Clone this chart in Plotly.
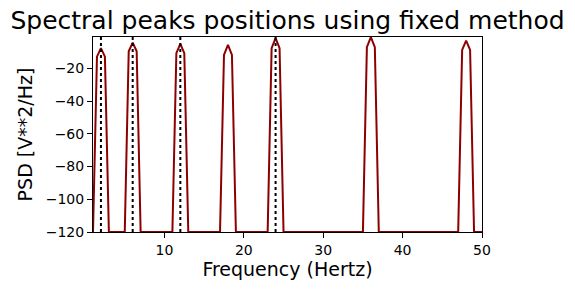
import plotly.graph_objects as go

# Spectrum vertices (Hz, dB)
freq = [1, 1.5, 2, 2.5, 3, 5, 5.5, 6, 6.5, 7, 11, 11.5, 12, 12.5, 13,
        17, 17.5, 18, 18.5, 19, 23, 23.5, 24, 24.5, 25, 35, 35.5, 36, 36.5, 37,
        47, 47.5, 48, 48.5, 49, 50]
psd = [-120, -12.8, -7.6, -12.8, -120, -120, -9.5, -4.2, -9.5, -120,
       -120, -10.7, -5.0, -10.7, -120, -120, -11.7, -5.6, -11.7, -120,
       -120, -7.6, -1.5, -7.6, -120, -120, -7.0, -0.9, -7.0, -120,
       -120, -8.7, -3.0, -8.7, -120, -120]
# Detected peak positions
peaks = [2, 6, 12, 24]

x_range = [1, 50]
y_range = [-120, -0.8]
y_ticks = [-20, -40, -60, -80, -100, -120]
x_ticks = [10, 20, 30, 40, 50]

fig = go.Figure()
fig.add_trace(go.Scatter(x=freq, y=psd, mode="lines",
                         line=dict(color="#8b0000", width=2), showlegend=False))
for p in peaks:
    fig.add_shape(type="line", x0=p, x1=p, y0=0, y1=1, xref="x", yref="paper",
                  line=dict(color="black", width=2, dash="dot"))

font = "DejaVu Sans, sans-serif"
fig.update_layout(
    width=575, height=290,
    margin=dict(l=93, r=93, t=37, b=58),
    paper_bgcolor="white", plot_bgcolor="white",
    font=dict(family=font, color="black"),
    title=dict(text="Spectral peaks positions using fixed method",
               x=0.5, xref="container", xanchor="center",
               y=1 - 20 / 290, yref="container", yanchor="middle",
               font=dict(size=25, family=font, color="black")),
)
fig.update_xaxes(range=x_range, tickvals=x_ticks, ticks="outside", ticklen=5,
                 tickcolor="black", showgrid=False, zeroline=False,
                 showline=True, linecolor="black", linewidth=1, mirror=True,
                 tickfont=dict(size=14, family=font),
                 title=dict(text="Frequency (Hertz)", font=dict(size=19, family=font), standoff=4))
fig.update_yaxes(range=y_range, tickvals=y_ticks, ticktext=["\u221220", "\u221240", "\u221260", "\u221280", "\u2212100", "\u2212120"],
                 ticks="outside", ticklen=5,
                 tickcolor="black", showgrid=False, zeroline=False,
                 showline=True, linecolor="black", linewidth=1, mirror=True,
                 tickfont=dict(size=14, family=font),
                 title=dict(text="PSD [V**2/Hz]", font=dict(size=19, family=font), standoff=8))

fig.write_html("out.html")
